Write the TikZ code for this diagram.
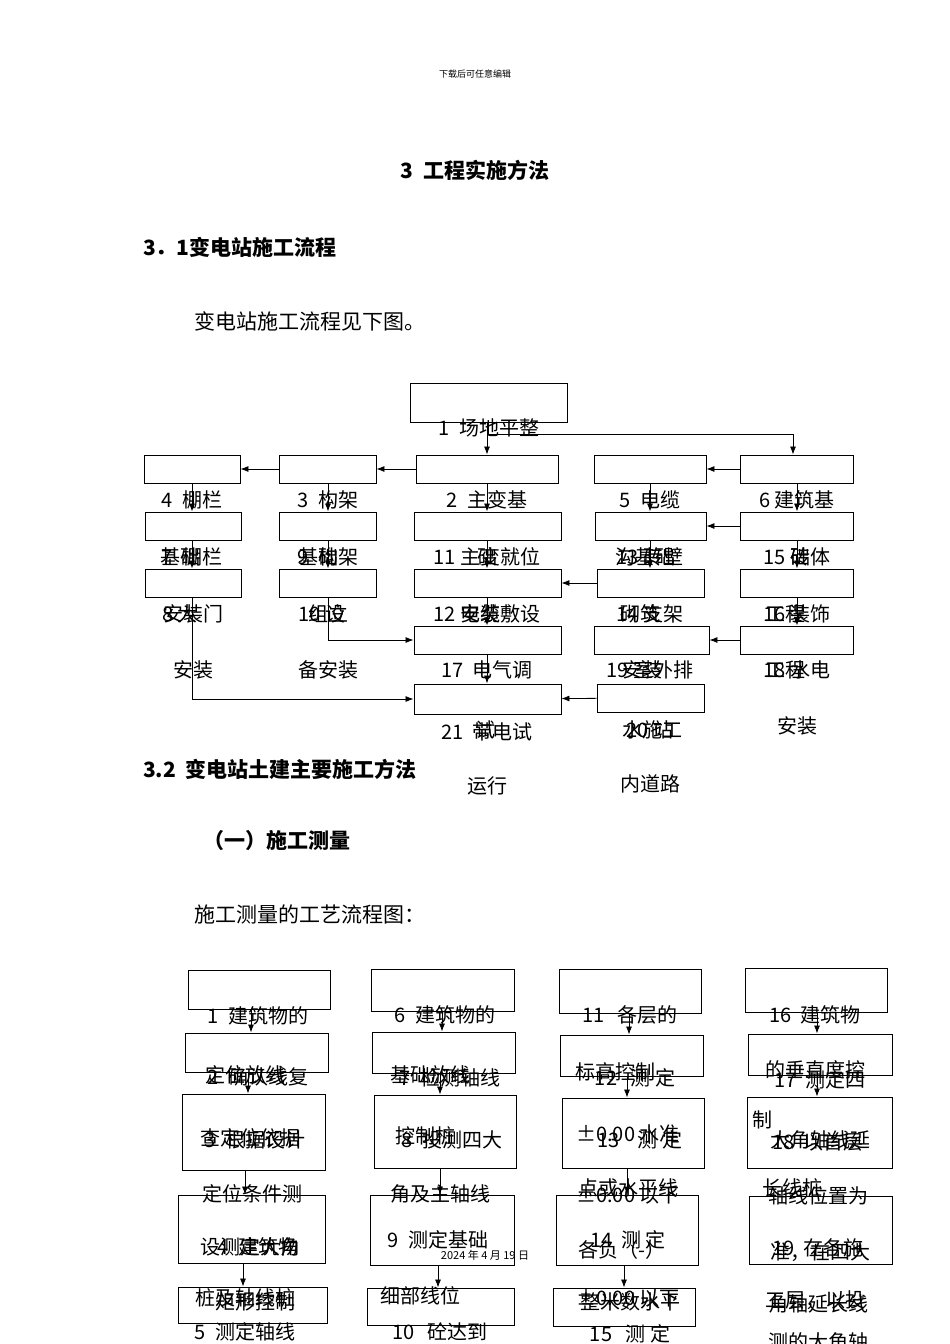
\documentclass[tikz,border=0pt]{standalone}
\usepackage{fontspec}
\setmainfont{Noto Sans CJK SC}
\usetikzlibrary{arrows.meta}
\newcounter{tcnt}
\tikzset{bx/.style={draw,line width=0.9pt,inner sep=0pt},
 t/.style={inner sep=0pt,font=\fontsize{20}{22}\selectfont},
 h/.style={inner sep=0pt,anchor=west,font=\fontsize{21}{24}\selectfont},
 ar/.style={line width=0.8pt,-{Latex[length=8pt,width=6pt]}},
 ln/.style={line width=0.8pt}}
\newcommand\bx[5]{\node[bx,minimum width={(#4-#2)*1pt},minimum height={(#5-#3)*1pt}] (#1) at ({(#2+#4)/2},{(#3+#5)/2}) {};}
\newcommand\tx[3]{\stepcounter{tcnt}\node[t] (t\arabic{tcnt}) at (#1,#2) {#3};}
\newcommand\va[3]{\draw[ar] (#1.south -| #3,0) -- (#2.north -| #3,0);}
\begin{document}
\begin{tikzpicture}[x=1pt,y=-1pt]
\useasboundingbox (0,0) rectangle (950,1344);
\node[inner sep=0pt,font=\fontsize{9}{10}\selectfont] (hd) at (475,74) {下载后可任意编辑};
\node[inner sep=0pt,font=\fontsize{21}{24}\selectfont\bfseries] (ti) at (475,170) {3\ \ 工程实施方法};
\node[h,font=\fontsize{21}{24}\selectfont\bfseries] (s31) at (143,247) {3．1变电站施工流程};
\node[h] (p1) at (194,321) {变电站施工流程见下图。};
\node[h,font=\fontsize{21}{24}\selectfont\bfseries] (s32) at (143,769) {3.2\ \ 变电站土建主要施工方法};
\node[h,font=\fontsize{21}{24}\selectfont\bfseries] (s1) at (203,841) {（一）施工测量};
\node[h] (p2) at (194,914) {施工测量的工艺流程图：};
% top flowchart boxes
\bx{B1}{410}{383}{567}{422}
\bx{B4}{144}{455}{240}{483}\bx{B3}{279}{455}{376}{483}\bx{B2}{416}{455}{558}{483}\bx{B5}{594}{455}{706}{483}\bx{B6}{740}{455}{853}{483}
\bx{B7}{145}{512}{241}{540}\bx{B9}{279}{512}{376}{540}\bx{B11}{414}{512}{561}{540}\bx{B13}{595}{512}{706}{540}\bx{B15}{740}{512}{853}{540}
\bx{B8}{145}{569}{241}{597}\bx{B10}{279}{569}{376}{597}\bx{B12}{414}{569}{561}{597}\bx{B14}{597}{569}{704}{597}\bx{B16}{740}{569}{853}{597}
\bx{B17}{414}{626}{561}{654}\bx{B19}{594}{626}{709}{654}\bx{B18}{740}{626}{853}{654}
\bx{B21}{414}{684}{561}{714}\bx{B20}{597}{684}{704}{712}
% top arrows
\va{B1}{B2}{487}
\draw[ar] (B1.south -| 487,0) |- (793,434) -- (B6.north -| 793,0);
\draw[ar] (B2) -- (B3); \draw[ar] (B3) -- (B4); \draw[ar] (B6) -- (B5);
\va{B4}{B7}{192}\va{B3}{B9}{328}\va{B2}{B11}{487}\va{B5}{B13}{650}\va{B6}{B15}{797}
\va{B7}{B8}{192}\va{B9}{B10}{328}\va{B11}{B12}{487}\va{B13}{B14}{650}\va{B15}{B16}{797}
\draw[ar] (B15) -- (B13); \draw[ar] (B14) -- (B12);
\draw[ar] (B10.south -| 328,0) |- (B17.west);
\va{B12}{B17}{487}\va{B16}{B18}{797}
\draw[ar] (B18) -- (B19);
\va{B17}{B21}{487}
\draw[ar] (B20) -- (B21);
\draw[ar] (B8.south -| 192,0) |- (B21.west);
% top texts
\tx{489}{428}{1\ \ 场地平整}
\tx{192}{500}{4\ \ 棚栏}\tx{328}{500}{3\ \ 构架}\tx{487}{500}{2\ \ 主变基}\tx{650}{500}{5\ \ 电缆}\tx{797}{500}{6 建筑基}
\tx{192}{557}{7\ \ 棚栏}\tx{180}{557}{基础}\tx{328}{557}{9\ \ 构架}\tx{318}{557}{基础}\tx{487}{557}{11 主变就位}\tx{487}{557}{础}\tx{650}{557}{13 砖壁}\tx{645}{557}{沟基础}\tx{797}{557}{15 砖体}\tx{800}{557}{础}
\tx{193}{614}{安装门}\tx{180}{614}{8 大}\tx{328}{614}{组立}\tx{322}{614}{10 设}\tx{487}{614}{12 电缆敷设}\tx{480}{614}{安装}\tx{650}{614}{14 支架}\tx{640}{614}{砌筑}\tx{797}{614}{16 装饰}\tx{785}{614}{工程}
\tx{193}{670}{安装}\tx{328}{670}{备安装}\tx{487}{670}{17\ \ 电气调}\tx{650}{670}{19 室外排}\tx{642}{670}{安装}\tx{797}{670}{18 水电}\tx{785}{670}{工程}
\tx{487}{732}{21\ \ 带电试}\tx{485}{730}{试}\tx{650}{730}{20 站}\tx{652}{730}{水施工}\tx{797}{726}{安装}
\tx{487}{786}{运行}\tx{650}{784}{内道路}
% bottom boxes
\bx{C1}{188}{970}{330}{1009}\bx{C2}{185}{1033}{328}{1072}\bx{C3}{182}{1094}{325}{1170}\bx{C4}{178}{1195}{325}{1263}\bx{C5}{178}{1287}{327}{1323}
\bx{D1}{371}{969}{514}{1011}\bx{D2}{372}{1032}{515}{1073}\bx{D3}{374}{1095}{516}{1168}\bx{D4}{370}{1195}{514}{1265}\bx{D5}{367}{1288}{514}{1325}
\bx{E1}{559}{969}{701}{1013}\bx{E2}{560}{1035}{703}{1076}\bx{E3}{562}{1098}{704}{1168}\bx{E4}{556}{1195}{698}{1265}\bx{E5}{553}{1288}{695}{1326}
\bx{F1}{745}{968}{887}{1012}\bx{F2}{748}{1034}{892}{1075}\bx{F3}{747}{1097}{892}{1168}\bx{F4}{749}{1196}{892}{1264}
\va{C1}{C2}{251}\va{C2}{C3}{248}\va{C3}{C4}{245}\va{C4}{C5}{243}
\va{D1}{D2}{442}\va{D2}{D3}{440}\va{D3}{D4}{440}\va{D4}{D5}{438}
\va{E1}{E2}{629}\va{E2}{E3}{627}\va{E3}{E4}{627}\va{E4}{E5}{624}
\va{F1}{F2}{817}\va{F2}{F3}{817}
% bottom texts
\tx{258}{1016}{1\ \ 建筑物的}\tx{245}{1075}{定位放线}\tx{258}{1077}{2\ \ 确认线复}\tx{250}{1138}{查定位依据}\tx{255}{1140}{3\ \ 根据设计}
\tx{252}{1194}{定位条件测}\tx{250}{1247}{设测定大角}\tx{258}{1247}{4\ \ 建筑物}\tx{245}{1298}{桩及轴线桩}\tx{255}{1302}{矩形控制}\tx{245}{1332}{5\ \ 测定轴线}
\tx{445}{1015}{6\ \ 建筑物的}\tx{430}{1075}{基础放线}\tx{450}{1078}{7\ \ 检测轴线}\tx{425}{1136}{控制桩}\tx{452}{1140}{8\ \ 投测四大}
\tx{440}{1194}{角及主轴线}\tx{438}{1240}{9\ \ 测定基础}\tx{420}{1296}{细部线位}\tx{440}{1332}{10\ \ \ 砼达到}
\tx{630}{1015}{11\ \ \ 各层的}\tx{615}{1072}{标高控制}\tx{635}{1078}{12\ \ \ 测\ 定}\tx{628}{1134}{±0.00 水准}\tx{640}{1140}{13\ \ \ \ 测\ 定}
\tx{628}{1188}{点或水平线}\tx{628}{1195}{±0.00 以下}\tx{628}{1240}{14\ \ 测\ 定}\tx{622}{1250}{各负（-）}\tx{628}{1298}{±0.00 以下}\tx{630}{1302}{整米数水平}\tx{630}{1334}{15\ \ \ 测\ 定}
\tx{815}{1015}{16\ \ 建筑物}\tx{815}{1070}{的垂直度控}\tx{820}{1080}{17\ \ 测定四}\tx{762}{1120}{制}\tx{820}{1140}{大角轴线延}\tx{818}{1142}{18\ \ 以首层}
\tx{792}{1188}{长线桩}\tx{818}{1196}{轴线位置为}\tx{818}{1248}{19\ \ 在各施}\tx{820}{1252}{准，在四大}\tx{815}{1300}{工层，以投}\tx{818}{1304}{角轴延长线}\tx{818}{1342}{测的大角轴}
\node[inner sep=0pt,font=\fontsize{11}{12}\selectfont] (dt) at (485,1255) {2024 年 4 月 19 日};
\end{tikzpicture}
\end{document}
